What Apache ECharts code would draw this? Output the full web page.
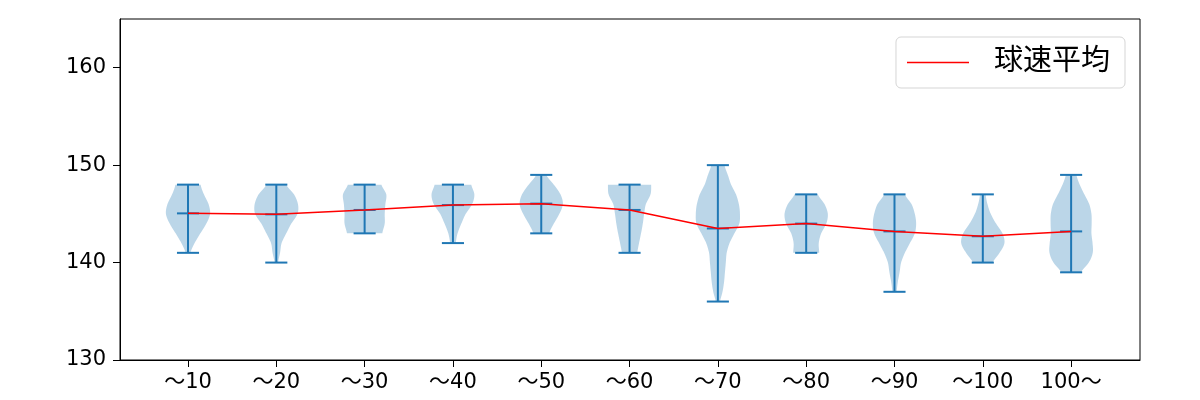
<!DOCTYPE html>
<html>
<head>
<meta charset="utf-8">
<script src="https://cdn.jsdelivr.net/npm/echarts@6/dist/echarts.min.js"></script>
<style>html,body{margin:0;padding:0;background:#fff;}#c{width:1200px;height:400px;}</style>
</head>
<body>
<div id="c"></div>
<script>
// ---- data ----
const categories = ['～10','～20','～30','～40','～50','～60','～70','～80','～90','～100','100～'];
const minValues  = [141, 140, 143, 142, 143, 141, 136, 141, 137, 140, 139];
const maxValues  = [148, 148, 148, 148, 149, 148, 150, 147, 147, 147, 149];
const meanValues = [145.05, 144.95, 145.4, 145.9, 146.05, 145.4, 143.5, 144.0, 143.2, 142.7, 143.2];
// relative violin half-widths, one per 1 km/h step from min to max
const profile1  = [0.11, 0.30, 0.56, 0.83, 1.00, 0.93, 0.72, 0.57];
const profile2  = [0.08, 0.17, 0.24, 0.45, 0.68, 0.96, 0.98, 0.80, 0.45];
const profile3  = [0.80, 0.91, 0.91, 0.94, 0.98, 0.76];
const profile4  = [0.13, 0.21, 0.38, 0.58, 0.87, 0.97, 0.83];
const profile5  = [0.36, 0.57, 0.82, 0.98, 0.87, 0.57, 0.23];
const profile6  = [0.35, 0.43, 0.52, 0.60, 0.66, 0.74, 0.95, 0.98];
const profile7  = [0.10, 0.21, 0.28, 0.32, 0.36, 0.40, 0.53, 0.75, 0.97, 1.00, 0.95, 0.82, 0.60, 0.45, 0.30];
const profile8  = [0.59, 0.57, 0.68, 0.91, 0.98, 0.83, 0.53];
const profile9  = [0.10, 0.15, 0.23, 0.30, 0.47, 0.70, 0.92, 0.98, 0.92, 0.77, 0.47];
const profile10 = [0.45, 0.76, 0.98, 0.89, 0.60, 0.36, 0.21, 0.13];
const profile11 = [0.45, 0.80, 0.98, 0.97, 0.92, 0.93, 0.92, 0.82, 0.60, 0.39, 0.24];
const yTicks = [130, 140, 150, 160];

const profiles = [profile1,profile2,profile3,profile4,profile5,profile6,profile7,profile8,profile9,profile10,profile11];
const positions = categories.map((_, i) => i + 1);
const MAX_HALF = 0.25, CAP_HALF = 0.125;
const BLUE = '#1f77b4';
const FONT = '"DejaVu Sans", "Noto Sans CJK JP", sans-serif';

// Catmull-Rom densify for a smooth outline (rendering only)
function densify(ys, ws, n) {
  const outY = [], outW = [];
  const m = ys.length;
  for (let i = 0; i < m - 1; i++) {
    const w0 = ws[Math.max(i - 1, 0)], w1 = ws[i], w2 = ws[i + 1], w3 = ws[Math.min(i + 2, m - 1)];
    for (let k = 0; k < n; k++) {
      const t = k / n, t2 = t * t, t3 = t2 * t;
      const w = 0.5 * ((2 * w1) + (-w0 + w2) * t + (2 * w0 - 5 * w1 + 4 * w2 - w3) * t2 + (-w0 + 3 * w1 - 3 * w2 + w3) * t3);
      outY.push(ys[i] + (ys[i + 1] - ys[i]) * t);
      outW.push(Math.max(w, 0.01));
    }
  }
  outY.push(ys[m - 1]); outW.push(ws[m - 1]);
  return [outY, outW];
}

const violinData = positions.map((p, i) => [p, minValues[i], maxValues[i], meanValues[i]]);

function renderViolin(params, api) {
  const i = params.dataIndex;
  const pos = api.value(0), lo = api.value(1), hi = api.value(2), mean = api.value(3);
  const prof = profiles[i];
  const ys = prof.map((_, k) => lo + k);
  const [dy, dw] = densify(ys, prof, 8);
  const right = dy.map((y, k) => api.coord([pos + dw[k] * MAX_HALF, y]));
  const left = dy.map((y, k) => api.coord([pos - dw[k] * MAX_HALF, y])).reverse();
  const pts = right.concat(left);
  const c = (x, y) => api.coord([x, y]);
  const line = (a, b) => ({ type: 'line', shape: { x1: a[0], y1: a[1], x2: b[0], y2: b[1] }, style: { stroke: BLUE, lineWidth: 2 } });
  return {
    type: 'group',
    children: [
      { type: 'polygon', shape: { points: pts }, style: { fill: 'rgba(31,119,180,0.3)', stroke: null } },
      line(c(pos, lo), c(pos, hi)),
      line(c(pos - CAP_HALF, hi), c(pos + CAP_HALF, hi)),
      line(c(pos - CAP_HALF, lo), c(pos + CAP_HALF, lo)),
      line(c(pos - CAP_HALF, mean), c(pos + CAP_HALF, mean))
    ]
  };
}

const chart = echarts.init(document.getElementById('c'), null, { renderer: 'canvas' });
chart.setOption({
  animation: false,
  backgroundColor: '#fff',
  textStyle: { fontFamily: FONT },
  grid: { left: 120, right: 60, top: 19, bottom: 40, show: true, borderColor: '#000', borderWidth: 1, backgroundColor: 'transparent' },
  legend: {
    data: ['球速平均'],
    right: 75, top: 37,
    orient: 'vertical',
    icon: 'rect',
    itemWidth: 62, itemHeight: 1.6,
    padding: [11, 15, 11, 11],
    borderColor: '#d5d5d5', borderWidth: 1, borderRadius: 5,
    backgroundColor: '#fff',
    textStyle: { fontSize: 29, color: '#000', fontFamily: FONT, padding: [0, 0, 0, 20] }
  },
  xAxis: {
    type: 'value', min: 0.23, max: 11.78,
    axisLine: { show: true, lineStyle: { color: '#000', width: 1 } },
    axisTick: { show: true, length: 7, lineStyle: { color: '#000' }, customValues: positions },
    axisLabel: { show: true, customValues: positions, color: '#000', fontSize: 21, margin: 12, fontFamily: FONT,
      formatter: v => categories[Math.round(v) - 1] || '' },
    splitLine: { show: false }
  },
  yAxis: {
    type: 'value', min: 130, max: 165, interval: 10,
    axisLine: { show: true, lineStyle: { color: '#000', width: 1 } },
    axisTick: { show: true, length: 7, lineStyle: { color: '#000' }, customValues: yTicks },
    axisLabel: { color: '#000', fontSize: 21, margin: 14, fontFamily: FONT, customValues: yTicks,
      formatter: v => String(v) },
    splitLine: { show: false }
  },
  series: [
    { type: 'custom', name: 'violins', renderItem: renderViolin, data: violinData, z: 2, clip: true },
    { type: 'line', name: '球速平均', data: positions.map((p, i) => [p, meanValues[i]]),
      lineStyle: { color: '#ff0000', width: 1.5 }, itemStyle: { color: '#ff0000' },
      symbol: 'none', showSymbol: false, z: 5 }
  ]
});
</script>
</body>
</html>
